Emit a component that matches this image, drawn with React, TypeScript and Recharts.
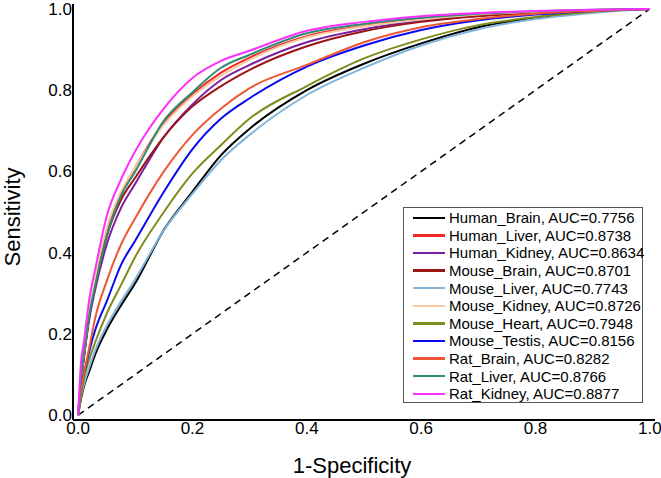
import { LineChart, Line, XAxis, YAxis, ReferenceLine } from 'recharts'

// false positive rate grid shared by every curve
const fpr = [0, 0.005, 0.01, 0.02, 0.03, 0.05, 0.075, 0.1, 0.15, 0.2, 0.25, 0.3, 0.4, 0.5, 0.6, 0.7, 0.8, 0.9, 1]

const humanBrain = [0, 0.04, 0.07, 0.11, 0.15, 0.21, 0.27, 0.325, 0.456, 0.55, 0.64, 0.705, 0.8, 0.865, 0.915, 0.955, 0.978, 0.995, 1]
const humanLiver = [0, 0.09, 0.15, 0.25, 0.33, 0.45, 0.545, 0.61, 0.72, 0.79, 0.843, 0.88, 0.933, 0.958, 0.975, 0.986, 0.993, 0.997, 1]
const humanKidney = [0, 0.08, 0.14, 0.24, 0.31, 0.42, 0.51, 0.57, 0.685, 0.765, 0.825, 0.862, 0.918, 0.95, 0.97, 0.983, 0.991, 0.996, 1]
const mouseBrain = [0, 0.08, 0.14, 0.25, 0.32, 0.44, 0.53, 0.585, 0.685, 0.76, 0.81, 0.85, 0.908, 0.945, 0.968, 0.982, 0.99, 0.996, 1]
const mouseLiver = [0, 0.045, 0.075, 0.12, 0.16, 0.22, 0.28, 0.335, 0.455, 0.545, 0.628, 0.69, 0.788, 0.855, 0.91, 0.95, 0.975, 0.99, 1]
const mouseKidney = [0, 0.09, 0.15, 0.26, 0.34, 0.46, 0.55, 0.61, 0.715, 0.785, 0.835, 0.875, 0.93, 0.957, 0.974, 0.986, 0.993, 0.997, 1]
const mouseHeart = [0, 0.05, 0.09, 0.14, 0.18, 0.25, 0.32, 0.39, 0.5, 0.595, 0.665, 0.73, 0.81, 0.878, 0.925, 0.96, 0.98, 0.993, 1]
const mouseTestis = [0, 0.07, 0.1, 0.16, 0.21, 0.28, 0.37, 0.43, 0.55, 0.655, 0.73, 0.78, 0.858, 0.91, 0.948, 0.972, 0.986, 0.995, 1]
const ratBrain = [0, 0.06, 0.1, 0.17, 0.24, 0.33, 0.42, 0.485, 0.6, 0.69, 0.755, 0.805, 0.862, 0.918, 0.955, 0.975, 0.988, 0.995, 1]
const ratLiver = [0, 0.09, 0.15, 0.25, 0.32, 0.44, 0.54, 0.6, 0.725, 0.795, 0.855, 0.887, 0.94, 0.963, 0.978, 0.988, 0.994, 0.998, 1]
const ratKidney = [0, 0.13, 0.18, 0.29, 0.36, 0.49, 0.58, 0.65, 0.755, 0.83, 0.872, 0.897, 0.946, 0.968, 0.982, 0.99, 0.995, 0.998, 1]

const seriesKeys = ['humanBrain', 'humanLiver', 'humanKidney', 'mouseBrain', 'mouseLiver', 'mouseKidney', 'mouseHeart', 'mouseTestis', 'ratBrain', 'ratLiver', 'ratKidney']
const seriesNames = ['Human_Brain', 'Human_Liver', 'Human_Kidney', 'Mouse_Brain', 'Mouse_Liver', 'Mouse_Kidney', 'Mouse_Heart', 'Mouse_Testis', 'Rat_Brain', 'Rat_Liver', 'Rat_Kidney']
const aucValues = ['0.7756', '0.8738', '0.8634', '0.8701', '0.7743', '0.8726', '0.7948', '0.8156', '0.8282', '0.8766', '0.8877']
const seriesValues = [humanBrain, humanLiver, humanKidney, mouseBrain, mouseLiver, mouseKidney, mouseHeart, mouseTestis, ratBrain, ratLiver, ratKidney]
const colors = ['#000000', '#f02828', '#7a1fa0', '#9c1414', '#80b4da', '#f8c8a0', '#7e8c1c', '#0a0af0', '#ee5636', '#2f8c72', '#ff30ff']

const axisTicks = [0, 0.2, 0.4, 0.6, 0.8, 1]

const data = fpr.map((x, i) => {
  const row: Record<string, number> = { x }
  seriesKeys.forEach((k, s) => { row[k] = seriesValues[s][i] })
  return row
})

const font = '"Liberation Sans", Arial, sans-serif'

function LegendBox() {
  return (
    <div style={{ position: 'absolute', left: 403, top: 207, width: 240, height: 196, border: '1px solid #555', boxSizing: 'border-box', background: '#fff', fontFamily: font, fontSize: 15, color: '#000' }}>
      {seriesNames.map((name, i) => (
        <div key={name} style={{ position: 'absolute', left: 9, top: 1 + i * 17.6, height: 17.6, display: 'flex', alignItems: 'center', whiteSpace: 'nowrap' }}>
          <span style={{ display: 'inline-block', width: 32, height: 2.5, background: colors[i], marginRight: 4 }} />
          <span>{`${name}, AUC=${aucValues[i]}`}</span>
        </div>
      ))}
    </div>
  )
}

export default function App() {
  return (
    <div style={{ position: 'fixed', left: 0, top: 0, width: 661, height: 478, background: '#fff' }}>
      <LineChart width={661} height={478} data={data} margin={{ top: 4, right: 6, bottom: 0, left: 0 }}>
        <XAxis
          dataKey="x"
          type="number"
          domain={[-0.009, 1.009]}
          ticks={axisTicks}
          tickFormatter={(v: number) => v.toFixed(1)}
          tickLine={false}
          tickSize={0}
          tickMargin={2}
          height={58}
          axisLine={{ stroke: '#000', strokeWidth: 2 }}
          tick={{ fill: '#000', fontSize: 17, fontFamily: font }}
          interval={0}
          label={{ value: '1-Specificity', content: () => <text x={352} y={473} textAnchor="middle" fontSize={22} fontFamily={font} fill="#000">1-Specificity</text> }}
        />
        <XAxis xAxisId="top" orientation="top" type="number" domain={[0, 1]} height={0} tick={false} tickLine={false} axisLine={{ stroke: '#000', strokeWidth: 2 }} />
        <YAxis
          type="number"
          domain={[-0.012, 1.012]}
          ticks={axisTicks}
          tickFormatter={(v: number) => v.toFixed(1)}
          tickLine={false}
          tickSize={0}
          tickMargin={1}
          width={73}
          axisLine={{ stroke: '#000', strokeWidth: 2 }}
          tick={{ fill: '#000', fontSize: 17, fontFamily: font }}
          interval={0}
          label={{ value: 'Sensitivity', content: () => <text x={20} y={217} transform="rotate(-90, 20, 217)" textAnchor="middle" fontSize={22} fontFamily={font} fill="#000">Sensitivity</text> }}
        />
        <YAxis yAxisId="right" orientation="right" type="number" domain={[0, 1]} width={0} tick={false} tickLine={false} axisLine={{ stroke: '#000', strokeWidth: 2 }} />
        <ReferenceLine segment={[{ x: 0, y: 0 }, { x: 1, y: 1 }]} stroke="#000" strokeWidth={1.5} strokeDasharray="7 5" />
        {seriesKeys.map((k, i) => (
          <Line key={k} dataKey={k} name={seriesNames[i]} type="monotone" stroke={colors[i]} strokeWidth={2} dot={false} isAnimationActive={false} />
        ))}
      </LineChart>
      <LegendBox />
    </div>
  )
}
